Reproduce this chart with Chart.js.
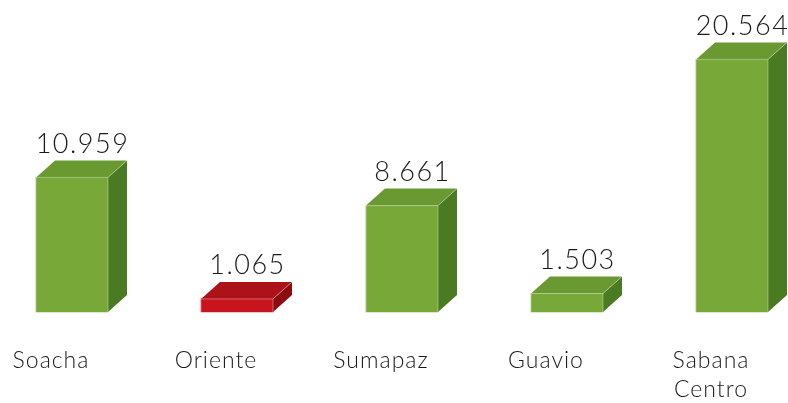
<!DOCTYPE html>
<html lang="es">
<head>
<meta charset="UTF-8">
<title>Provincias</title>
<script src="https://cdn.jsdelivr.net/npm/chart.js"></script>
<style>
  html, body { margin: 0; padding: 0; background: #fff; }
  #wrap { width: 788px; height: 403px; }
</style>
</head>
<body>
<div id="wrap"><canvas id="chart" width="788" height="403"></canvas></div>
<script>
// data
const categories = ['Soacha', 'Oriente', 'Sumapaz', 'Guavio', ['Sabana', 'Centro']];
const values = [10959, 1065, 8661, 1503, 20564];
const highlighted = 'Oriente';

// 3D depth of the boxes
const DX = 19, DY = 17;

const green = { front: '#78a838', top: '#6a9931', side: '#4a7a22' };
const red = { front: '#c8141d', top: '#ae1219', side: '#8c0b10' };
const faceColors = categories.map(c => c === highlighted ? red : green);

function fmt(v) {
  return v.toString().replace(/\B(?=(\d{3})+(?!\d))/g, '.');
}

const FONT = '"Lato", "Open Sans", sans-serif';

const boxes3d = {
  id: 'boxes3d',
  afterDatasetsDraw(chart) {
    const ctx = chart.ctx;
    const meta = chart.getDatasetMeta(0);
    ctx.save();
    meta.data.forEach((bar, i) => {
      const { x, y, base, width } = bar.getProps(['x', 'y', 'base', 'width'], true);
      const l = x - width / 2, r = x + width / 2;
      const c = faceColors[i];
      // top face
      ctx.fillStyle = c.top;
      ctx.beginPath();
      ctx.moveTo(l, y);
      ctx.lineTo(l + DX, y - DY);
      ctx.lineTo(r + DX, y - DY);
      ctx.lineTo(r, y);
      ctx.closePath();
      ctx.fill();
      // side face
      ctx.fillStyle = c.side;
      ctx.beginPath();
      ctx.moveTo(r, y);
      ctx.lineTo(r + DX, y - DY);
      ctx.lineTo(r + DX, base - DY);
      ctx.lineTo(r, base);
      ctx.closePath();
      ctx.fill();
      // faint highlight edges
      ctx.strokeStyle = 'rgba(255,255,255,0.35)';
      ctx.lineWidth = 1;
      ctx.beginPath();
      ctx.moveTo(l, base); ctx.lineTo(l, y); ctx.lineTo(r, y); ctx.lineTo(r, base);
      ctx.moveTo(r, y); ctx.lineTo(r + DX, y - DY);
      ctx.stroke();

      // value label
      ctx.fillStyle = '#1a1a1a';
      ctx.font = '300 27px ' + FONT;
      ctx.letterSpacing = '1.5px';
      ctx.textAlign = 'center';
      ctx.textBaseline = 'bottom';
      ctx.fillText(fmt(values[i]), x + DX / 2 + 1, y - DY - 3);

      // category label
      ctx.font = '300 23px ' + FONT;
      ctx.letterSpacing = '1px';
      ctx.textBaseline = 'middle';
      const lines = Array.isArray(categories[i]) ? categories[i] : [categories[i]];
      lines.forEach((t, k) => ctx.fillText(t, x - 21, 361 + k * 29));
    });
    ctx.restore();
  }
};

new Chart(document.getElementById('chart'), {
  type: 'bar',
  data: {
    labels: categories,
    datasets: [{
      data: values,
      backgroundColor: faceColors.map(c => c.front),
      borderWidth: 0,
      barThickness: 72,
      clip: false
    }]
  },
  options: {
    responsive: false,
    animation: false,
    layout: { padding: { left: 72, right: 56, top: 0, bottom: 91 } },
    plugins: { legend: { display: false }, tooltip: { enabled: false } },
    scales: {
      x: { display: false, offset: false },
      y: { display: false, min: 0, max: 25400 }
    }
  },
  plugins: [boxes3d]
});
</script>
</body>
</html>
